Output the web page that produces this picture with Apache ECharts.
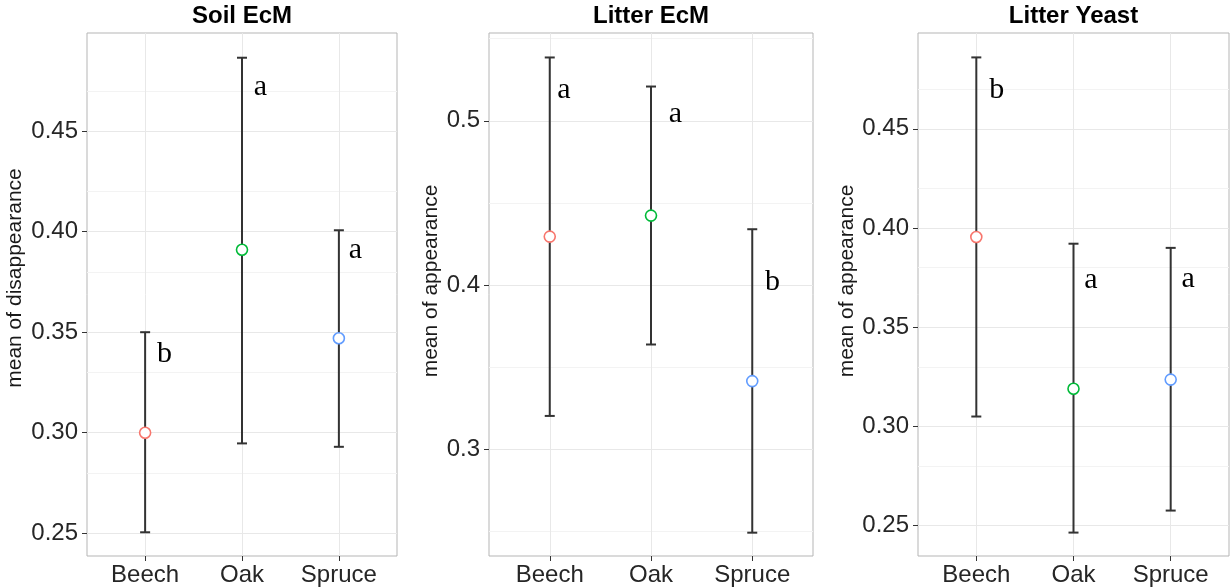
<!DOCTYPE html>
<html>
<head>
<meta charset="utf-8">
<script src="https://cdn.jsdelivr.net/npm/echarts@6/dist/echarts.min.js"></script>
<style>
html,body{margin:0;padding:0;background:#fff;}
#chart{width:1231px;height:588px;}
</style>
</head>
<body>
<div id="chart"></div>
<script>
// ---- data ----
const categories = ['Beech', 'Oak', 'Spruce'];
const panelTitles = ['Soil EcM', 'Litter EcM', 'Litter Yeast'];
const yTitles = ['mean of disappearance', 'mean of appearance', 'mean of appearance'];

const soilMean = [0.300, 0.391, 0.347];
const soilLow  = [0.2505, 0.2947, 0.293];
const soilHigh = [0.350, 0.4865, 0.4007];

const ecmMean = [0.4295, 0.4423, 0.3415];
const ecmLow  = [0.3203, 0.3638, 0.2492];
const ecmHigh = [0.5386, 0.5209, 0.434];

const yeastMean = [0.3955, 0.319, 0.3236];
const yeastLow  = [0.305, 0.2465, 0.2576];
const yeastHigh = [0.486, 0.3921, 0.390];

const soilLetters = ['b', 'a', 'a'];
const ecmLetters = ['a', 'a', 'b'];
const yeastLetters = ['b', 'a', 'a'];

const soilLetterX = [1.20, 2.19, 3.17];
const ecmLetterX = [1.14, 2.24, 3.20];
const yeastLetterX = [1.21, 2.18, 3.18];
const soilLetterY = [0.339, 0.472, 0.391];
const ecmLetterY = [0.519, 0.5044, 0.4018];
const yeastLetterY = [0.4697, 0.3737, 0.3745];

const soilTicks = [0.25, 0.30, 0.35, 0.40, 0.45];
const ecmTicks = [0.3, 0.4, 0.5];
const yeastTicks = [0.25, 0.30, 0.35, 0.40, 0.45];
const soilMinor = [0.275, 0.325, 0.375, 0.425, 0.475];
const ecmMinor = [0.25, 0.35, 0.45, 0.55];
const yeastMinor = [0.275, 0.325, 0.375, 0.425, 0.475];

const soilRange = [0.2387, 0.4988];
const ecmRange = [0.235, 0.5535];
const yeastRange = [0.2347, 0.4983];

const pointColors = ['#F8766D', '#00BA38', '#619CFF'];

// ---- layout ----
const grids = [
  {left: 87, top: 33, width: 310, height: 523},
  {left: 489, top: 33, width: 324, height: 523},
  {left: 918, top: 33, width: 311, height: 523}
];
const yTitlePos = [[15, 278], [431, 281], [847, 281]];
const decimals = [2, 1, 2];

const panels = [
  {mean: soilMean, low: soilLow, high: soilHigh, letters: soilLetters, lx: soilLetterX, ly: soilLetterY, ticks: soilTicks, minor: soilMinor, range: soilRange},
  {mean: ecmMean, low: ecmLow, high: ecmHigh, letters: ecmLetters, lx: ecmLetterX, ly: ecmLetterY, ticks: ecmTicks, minor: ecmMinor, range: ecmRange},
  {mean: yeastMean, low: yeastLow, high: yeastHigh, letters: yeastLetters, lx: yeastLetterX, ly: yeastLetterY, ticks: yeastTicks, minor: yeastMinor, range: yeastRange}
];

const FONT = '"Liberation Sans", Arial, sans-serif';
const xAxes = [], yAxes = [], series = [], graphics = [];
const catPos = categories.map((c, i) => i + 1);

panels.forEach((p, k) => {
  const g = grids[k];
  xAxes.push({
    type: 'value', gridIndex: k, min: 0.4, max: 3.6,
    axisLine: {show: false},
    splitLine: {show: false},
    axisTick: {show: true, customValues: catPos, length: 5, lineStyle: {color: '#333', width: 1}},
    axisLabel: {show: true, customValues: catPos, margin: 7, fontSize: 24, fontFamily: FONT, color: '#262626',
      formatter: v => categories[Math.round(v) - 1]}
  });
  yAxes.push({
    type: 'value', gridIndex: k, min: p.range[0], max: p.range[1],
    axisLine: {show: false},
    splitLine: {show: false},
    axisTick: {show: true, customValues: p.ticks, length: 5, lineStyle: {color: '#333', width: 1}},
    axisLabel: {show: true, customValues: p.ticks, margin: 9, fontSize: 24, fontFamily: FONT, color: '#262626',
      formatter: v => v.toFixed(decimals[k])}
  });
  // grid lines
  const mlData = [];
  p.minor.forEach(v => mlData.push({yAxis: v, lineStyle: {color: '#f3f3f3', width: 1}}));
  p.ticks.forEach(v => mlData.push({yAxis: v, lineStyle: {color: '#e8e8e8', width: 1}}));
  catPos.forEach(v => mlData.push({xAxis: v, lineStyle: {color: '#e8e8e8', width: 1}}));
  series.push({
    type: 'line', xAxisIndex: k, yAxisIndex: k, data: [], silent: true,
    markLine: {silent: true, z: 1, symbol: ['none', 'none'], label: {show: false}, animation: false,
      lineStyle: {type: 'solid'}, data: mlData}
  });
  // error bars
  series.push({
    type: 'custom', xAxisIndex: k, yAxisIndex: k, z: 2,
    data: catPos.map((x, i) => [x, p.low[i], p.high[i]]),
    renderItem: (params, api) => {
      const x = api.value(0);
      const a = api.coord([x, api.value(1)]);
      const b = api.coord([x, api.value(2)]);
      const hw = 5;
      const st = {stroke: '#333', lineWidth: 2};
      return {type: 'group', children: [
        {type: 'line', shape: {x1: a[0], y1: a[1], x2: b[0], y2: b[1]}, style: st},
        {type: 'line', shape: {x1: a[0] - hw, y1: a[1], x2: a[0] + hw, y2: a[1]}, style: st},
        {type: 'line', shape: {x1: b[0] - hw, y1: b[1], x2: b[0] + hw, y2: b[1]}, style: st}
      ]};
    }
  });
  // mean points
  series.push({
    type: 'scatter', xAxisIndex: k, yAxisIndex: k, z: 3,
    symbol: 'circle', symbolSize: 11,
    itemStyle: {opacity: 1},
    data: catPos.map((x, i) => ({value: [x, p.mean[i]], itemStyle: {color: '#fff', opacity: 1, borderColor: pointColors[i], borderWidth: 1.6}}))
  });
  // letters
  series.push({
    type: 'custom', xAxisIndex: k, yAxisIndex: k, z: 4,
    data: p.letters.map((l, i) => [p.lx[i], p.ly[i], l]),
    renderItem: (params, api) => {
      const c = api.coord([api.value(0), api.value(1)]);
      return {type: 'text', x: c[0], y: c[1], style: {text: p.letters[params.dataIndex], fill: '#000',
        font: '30px "Liberation Serif", "Times New Roman", serif', align: 'center', verticalAlign: 'middle'}};
    }
  });
  // titles
  graphics.push({type: 'text', x: g.left + g.width / 2, y: 16, style: {text: panelTitles[k], fill: '#000',
    font: 'bold 24px ' + FONT, align: 'center', verticalAlign: 'middle'}});
  graphics.push({type: 'text', x: yTitlePos[k][0], y: yTitlePos[k][1], rotation: Math.PI / 2,
    style: {text: yTitles[k], fill: '#1a1a1a', font: '21px ' + FONT, align: 'center', verticalAlign: 'middle'}});
});

const chart = echarts.init(document.getElementById('chart'), null, {renderer: 'canvas'});
chart.setOption({
  animation: false,
  backgroundColor: '#fff',
  grid: grids.map(g => Object.assign({show: true, borderColor: '#b5b5b5', borderWidth: 1, backgroundColor: 'transparent'}, g)),
  xAxis: xAxes,
  yAxis: yAxes,
  series: series,
  graphic: graphics
});
</script>
</body>
</html>
